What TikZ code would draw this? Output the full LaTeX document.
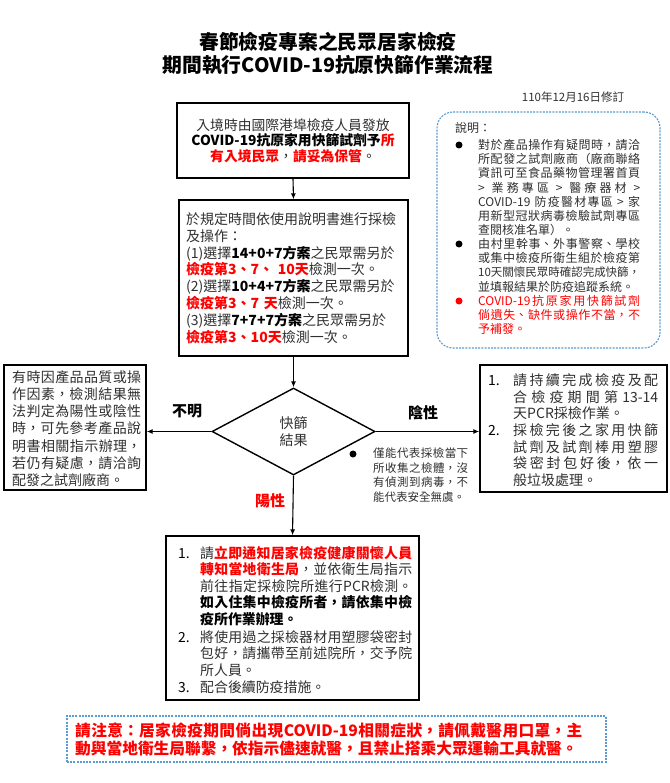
\documentclass[tikz,border=0pt]{standalone}
\usepackage{fontspec}
\setmainfont{Noto Sans CJK TC}
\usetikzlibrary{arrows.meta,shapes.geometric}
\XeTeXlinebreaklocale "zh"
\XeTeXlinebreakskip=0pt plus 1pt minus 1pt
\definecolor{ink}{HTML}{303030}
\definecolor{myred}{HTML}{FF0000}
\definecolor{myblue}{HTML}{5B9BD5}
\newcommand\myfs[2]{\fontsize{#1}{#2}\selectfont}
\newcommand\redb[1]{{\color{myred}\bfseries #1}}
\newcommand\blkb[1]{{\color{black}\bfseries #1}}
\begin{document}
\begin{tikzpicture}[x=1pt,y=-1pt,
  frame/.style={draw=black,line width=1.4pt,inner sep=0pt},
  arr/.style={line width=1.1pt,-{Latex[length=6pt,width=5pt]}},
  para/.style={inner sep=0pt,anchor=base west,align=justify,text=ink},
  line/.style={inner sep=0pt,anchor=base,text=ink},
  dot/.style={circle,fill=black,inner sep=0pt,minimum size=7pt},
  dashbox/.style={draw=myblue,line width=1.1pt,dash pattern=on 2pt off 1.2pt}]
\useasboundingbox (0,0) rectangle (669,783);
\fill[white] (0,0) rectangle (669,783);

% title
\node[line,font=\myfs{19.8}{23}\bfseries,text=black] (t1) at (328,49.5) {春節檢疫專案之民眾居家檢疫};
\node[line,font=\myfs{19.8}{23}\bfseries,text=black] (t2) at (328,72.5) {期間執行COVID-19抗原快篩作業流程};
\node[line,font=\myfs{11.5}{13}] (date) at (573,101.3) {110年12月16日修訂};

% top box
\node[frame,minimum width=232pt,minimum height=75pt] (b1) at (293,140.5) {};
\node[line,font=\myfs{13.8}{15.6}] (b1l1) at (293,130.2) {入境時由國際港埠檢疫人員發放};
\node[line,font=\myfs{13.8}{15.6}] (b1l2) at (293,145.6) {\blkb{COVID-19抗原家用快篩試劑予}\redb{所}};
\node[line,font=\myfs{13.8}{15.6}] (b1l3) at (293,161.2) {\redb{有入境民眾}，\redb{請妥為保管}。};

% second box
\node[frame,minimum width=229pt,minimum height=156pt] (b2) at (293.5,278) {};
\node[para,align=left,text width=220pt,font=\myfs{14}{16.86}] (b2t) at (186,224.3) {於規定時間依使用說明書進行採檢\\及操作：\\(1)選擇\blkb{14+0+7方案}之民眾需另於\\\redb{檢疫第3、7、 10天}檢測一次。\\(2)選擇\blkb{10+4+7方案}之民眾需另於\\\redb{檢疫第3、7 天}檢測一次。\\(3)選擇\blkb{7+7+7方案}之民眾需另於\\\redb{檢疫第3、10天}檢測一次。};

% note box
\node[dashbox,rounded corners=16pt,minimum width=223pt,minimum height=236pt,inner sep=0pt] (note) at (548.5,230) {};
\node[para,font=\myfs{12}{14.15}] (nh) at (455,132.6) {說明：};
\node[dot] (d1) at (459,145) {};
\node[para,text width=162pt,font=\myfs{12}{14.15}] (n1) at (478,149.6) {對於產品操作有疑問時，請洽\linebreak 所配發之試劑廠商（廠商聯絡\linebreak 資訊可至食品藥物管理署首頁\linebreak > 業務專區 > 醫療器材 >\linebreak COVID-19 防疫醫材專區 > 家\linebreak 用新型冠狀病毒檢驗試劑專區\linebreak 查閱核准名單）。};
\node[dot] (d2) at (459,244) {};
\node[para,text width=162pt,font=\myfs{12}{14.15}] (n2) at (478,248.6) {由村里幹事、外事警察、學校\linebreak 或集中檢疫所衛生組於檢疫第\linebreak {\myfs{11.5}{14.15}10天關懷民眾時確認完成快篩，}\linebreak 並填報結果於防疫追蹤系統。};
\node[dot,fill=myred] (d3) at (459,301) {};
\node[para,text width=162pt,font=\myfs{12}{14.15},text=myred] (n3) at (478,305.6) {COVID-19抗原家用快篩試劑\linebreak 倘遺失、缺件或操作不當，不\linebreak 予補發。};

% diamond
\node[draw=black,line width=1.4pt,diamond,minimum width=163pt,minimum height=87pt,inner sep=0pt,text=ink,align=center,font=\myfs{14}{17}] (dia) at (293.5,431.5) {快篩\\結果};

% left box
\node[frame,minimum width=142pt,minimum height=125pt] (bl) at (75,427.5) {};
\node[para,text width=129pt,font=\myfs{14}{17.2}] (blt) at (12,382.3) {有時因產品品質或操\linebreak 作因素，檢測結果無\linebreak 法判定為陽性或陰性\linebreak 時，可先參考產品說\linebreak 明書相關指示辦理，\linebreak 若仍有疑慮，請洽詢\linebreak 配發之試劑廠商。};

% right box
\node[frame,minimum width=187pt,minimum height=127pt] (br) at (573.5,428.5) {};
\node[line,anchor=base west,font=\myfs{14}{16.7},text=black] (r1n) at (488,385.3) {1.};
\node[para,text width=145pt,font=\myfs{14}{16.7}] (r1t) at (513,385.3) {請持續完成檢疫及配\linebreak 合檢疫期間第13-14\linebreak 天PCR採檢作業。};
\node[line,anchor=base west,font=\myfs{14}{16.7},text=black] (r2n) at (488,435.3) {2.};
\node[para,text width=145pt,font=\myfs{14}{16.7}] (r2t) at (513,435.3) {採檢完後之家用快篩\linebreak 試劑及試劑棒用塑膠\linebreak 袋密封包好後，依一\linebreak 般垃圾處理。};

% diamond note
\node[dot] (d4) at (353,454) {};
\node[para,text width=95pt,font=\myfs{11.5}{14.7}] (dn) at (373,457.4) {僅能代表採檢當下\linebreak 所收集之檢體，沒\linebreak 有偵測到病毒，不\linebreak 能代表安全無虞。};

% branch labels
\node[line,font=\myfs{15}{18}\bfseries,text=black] (lu) at (187,416.7) {不明};
\node[line,font=\myfs{15}{18}\bfseries,text=black] (ln) at (423,418.7) {陰性};
\node[line,font=\myfs{15}{18}\bfseries,text=myred] (lp) at (270,506.7) {陽性};

% bottom box
\node[frame,minimum width=253pt,minimum height=164pt] (bb) at (292.5,618) {};
\node[line,anchor=base west,font=\myfs{13.9}{16.5},text=black] (p1n) at (178,558.3) {1.};
\node[para,text width=212pt,font=\myfs{13.9}{16.5}] (p1t) at (200,558.3) {請\redb{立即通知居家檢疫健康關懷人員}\linebreak \redb{轉知當地衛生局}，並依衛生局指示\linebreak 前往指定採檢院所進行PCR檢測。\linebreak \blkb{如入住集中檢疫所者，請依集中檢}\linebreak \blkb{疫所作業辦理。}};
\node[line,anchor=base west,font=\myfs{13.9}{16.5},text=black] (p2n) at (178,642.3) {2.};
\node[para,text width=212pt,font=\myfs{13.9}{16.5}] (p2t) at (200,642.3) {將使用過之採檢器材用塑膠袋密封\linebreak 包好，請攜帶至前述院所，交予院\linebreak 所人員。};
\node[line,anchor=base west,font=\myfs{13.9}{16.5},text=black] (p3n) at (178,692.3) {3.};
\node[para,text width=212pt,font=\myfs{13.9}{16.5}] (p3t) at (200,692.3) {配合後續防疫措施。};

% footer
\node[dashbox,minimum width=539pt,minimum height=46pt,inner sep=0pt] (foot) at (336.5,739) {};
\node[para,text width=507pt,font=\myfs{15.7}{18}\bfseries,text=myred] (ft) at (75,736) {請注意：居家檢疫期間倘出現COVID-19相關症狀，請佩戴醫用口罩，主\linebreak 動與當地衛生局聯繫，依指示儘速就醫，且禁止搭乘大眾運輸工具就醫。};

% connectors
\draw[arr] (b1.south) -- (b2.north);
\draw[arr] (b2.south) -- (dia.north);
\draw[arr] (dia.west) -- (dia.west -| bl.east);
\draw[arr] (dia.east) -- (dia.east -| br.west);
\draw[arr] (dia.south) -- (bb.north);
\end{tikzpicture}
\end{document}
